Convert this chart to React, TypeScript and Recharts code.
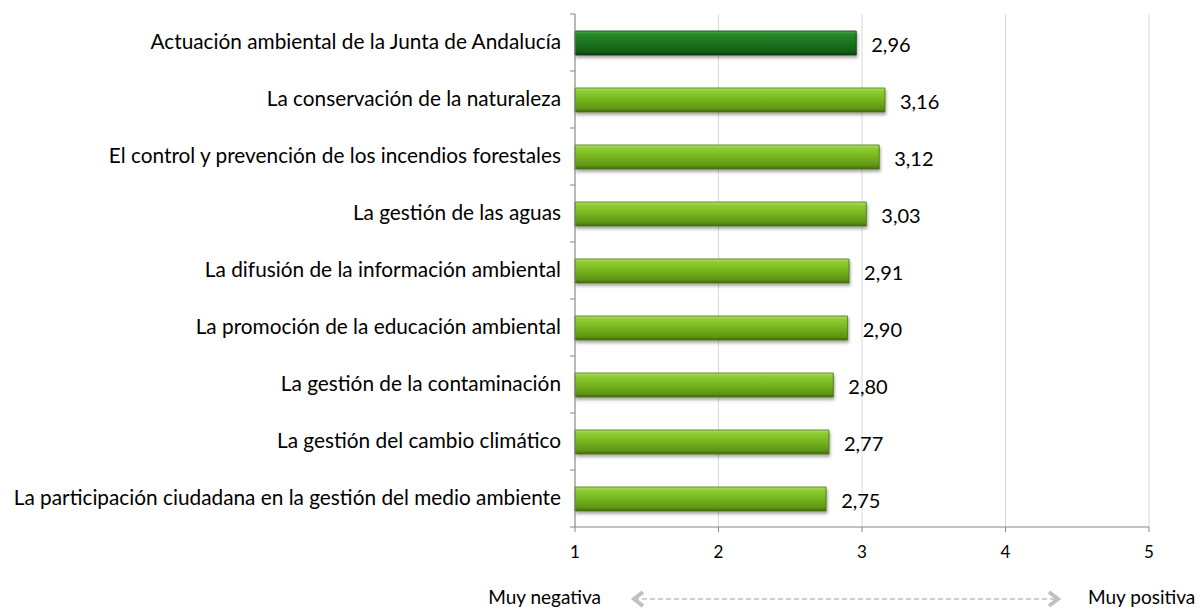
import { BarChart, Bar, XAxis, YAxis, CartesianGrid, Cell, LabelList } from "recharts";

const categories = [
  "Actuación ambiental de la Junta de Andalucía",
  "La conservación de la naturaleza",
  "El control y prevención de los incendios forestales",
  "La gestión de las aguas",
  "La difusión de la información ambiental",
  "La promoción de la educación ambiental",
  "La gestión de la contaminación",
  "La gestión del cambio climático",
  "La participación ciudadana en la gestión del medio ambiente",
];
const values = [2.96, 3.16, 3.12, 3.03, 2.91, 2.9, 2.8, 2.77, 2.75];
const xTicks = [1, 2, 3, 4, 5];

const data = categories.map((name, i) => ({ name, value: values[i] }));

const FONT = "Lato, sans-serif";
const fmt = (v: number) => v.toFixed(2).replace(".", ",");

// category label plus a small tick mark at the top edge of its band
const CategoryTick = (props: any) => {
  const { x, y, payload, index, visibleTicksCount } = props;
  const half = payload.offset || 0;
  const axisX = x + 14;
  const last = index === visibleTicksCount - 1;
  return (
    <g>
      <line x1={axisX - 5} x2={axisX} y1={y - half} y2={y - half} stroke="#868686" />
      {last && <line x1={axisX - 5} x2={axisX} y1={y + half} y2={y + half} stroke="#868686" />}
      <text x={x} y={y} dy="0.3em" textAnchor="end" fill="#000" fontSize={20.8} fontFamily={FONT}>
        {payload.value}
      </text>
    </g>
  );
};

const App = () => {
  return (
    <div style={{ position: "absolute", left: 0, top: 0, width: 1203, height: 609, background: "#fff", fontFamily: FONT }}>
      <BarChart
        width={1203}
        height={609}
        data={data}
        layout="vertical"
        margin={{ top: 14, right: 54, bottom: 42, left: 0 }}
        barSize={24}
      >
        <defs>
          <linearGradient id="gLight" x1="0" y1="0" x2="0" y2="1">
            <stop offset="0%" stopColor="#b4e86a" />
            <stop offset="12%" stopColor="#8fcd35" />
            <stop offset="45%" stopColor="#78b820" />
            <stop offset="85%" stopColor="#5f9615" />
            <stop offset="100%" stopColor="#416d0c" />
          </linearGradient>
          <linearGradient id="gDark" x1="0" y1="0" x2="0" y2="1">
            <stop offset="0%" stopColor="#4fae4a" />
            <stop offset="12%" stopColor="#2a8a2c" />
            <stop offset="45%" stopColor="#1d7620" />
            <stop offset="85%" stopColor="#135e14" />
            <stop offset="100%" stopColor="#0b430b" />
          </linearGradient>
          <filter id="barShadow" x="-5%" y="-30%" width="110%" height="180%">
            <feDropShadow dx="1" dy="2.5" stdDeviation="1.5" floodColor="#000" floodOpacity="0.35" />
          </filter>
        </defs>
        <CartesianGrid horizontal={false} stroke="#d9d9d9" />
        <XAxis
          type="number"
          domain={[1, 5]}
          ticks={xTicks}
          stroke="#868686"
          tickSize={5}
          tickMargin={14}
          height={40}
          tick={{ fill: "#000", fontSize: 17, fontFamily: FONT }}
        />
        <YAxis
          dataKey="name"
          type="category"
          width={575}
          stroke="#868686"
          tickLine={false}
          tickSize={0}
          tickMargin={14}
          interval={0}
          tick={<CategoryTick />}
        />
        <Bar dataKey="value" isAnimationActive={false} strokeWidth={0.8} filter="url(#barShadow)">
          {data.map((_, i) => (
            <Cell key={`c-${i}`} fill={i === 0 ? "url(#gDark)" : "url(#gLight)"} stroke={i === 0 ? "#0a3a0a" : "#456f10"} />
          ))}
          <LabelList
            dataKey="value"
            position="right"
            offset={15}
            formatter={(v: any) => fmt(Number(v))}
            style={{ fill: "#000", fontSize: 20, fontFamily: FONT, transform: "translateY(2px)", filter: "none" }}
          />
        </Bar>
      </BarChart>
      <svg width={1203} height={609} style={{ position: "absolute", left: 0, top: 0, pointerEvents: "none" }}>
        <text x={601} y={604} textAnchor="end" fontSize={19} fontFamily={FONT} fill="#000">
          Muy negativa
        </text>
        <text x={1088} y={604} fontSize={19} fontFamily={FONT} fill="#000">
          Muy positiva
        </text>
        <line x1={634} y1={599} x2={1058} y2={599} stroke="#bfbfbf" strokeWidth={1.5} strokeDasharray="5 3" />
        <polyline points="643,592 634,599 643,606" fill="none" stroke="#c0c0c0" strokeWidth={4} />
        <polyline points="1049,592 1058,599 1049,606" fill="none" stroke="#c0c0c0" strokeWidth={4} />
      </svg>
    </div>
  );
};

export default App;
